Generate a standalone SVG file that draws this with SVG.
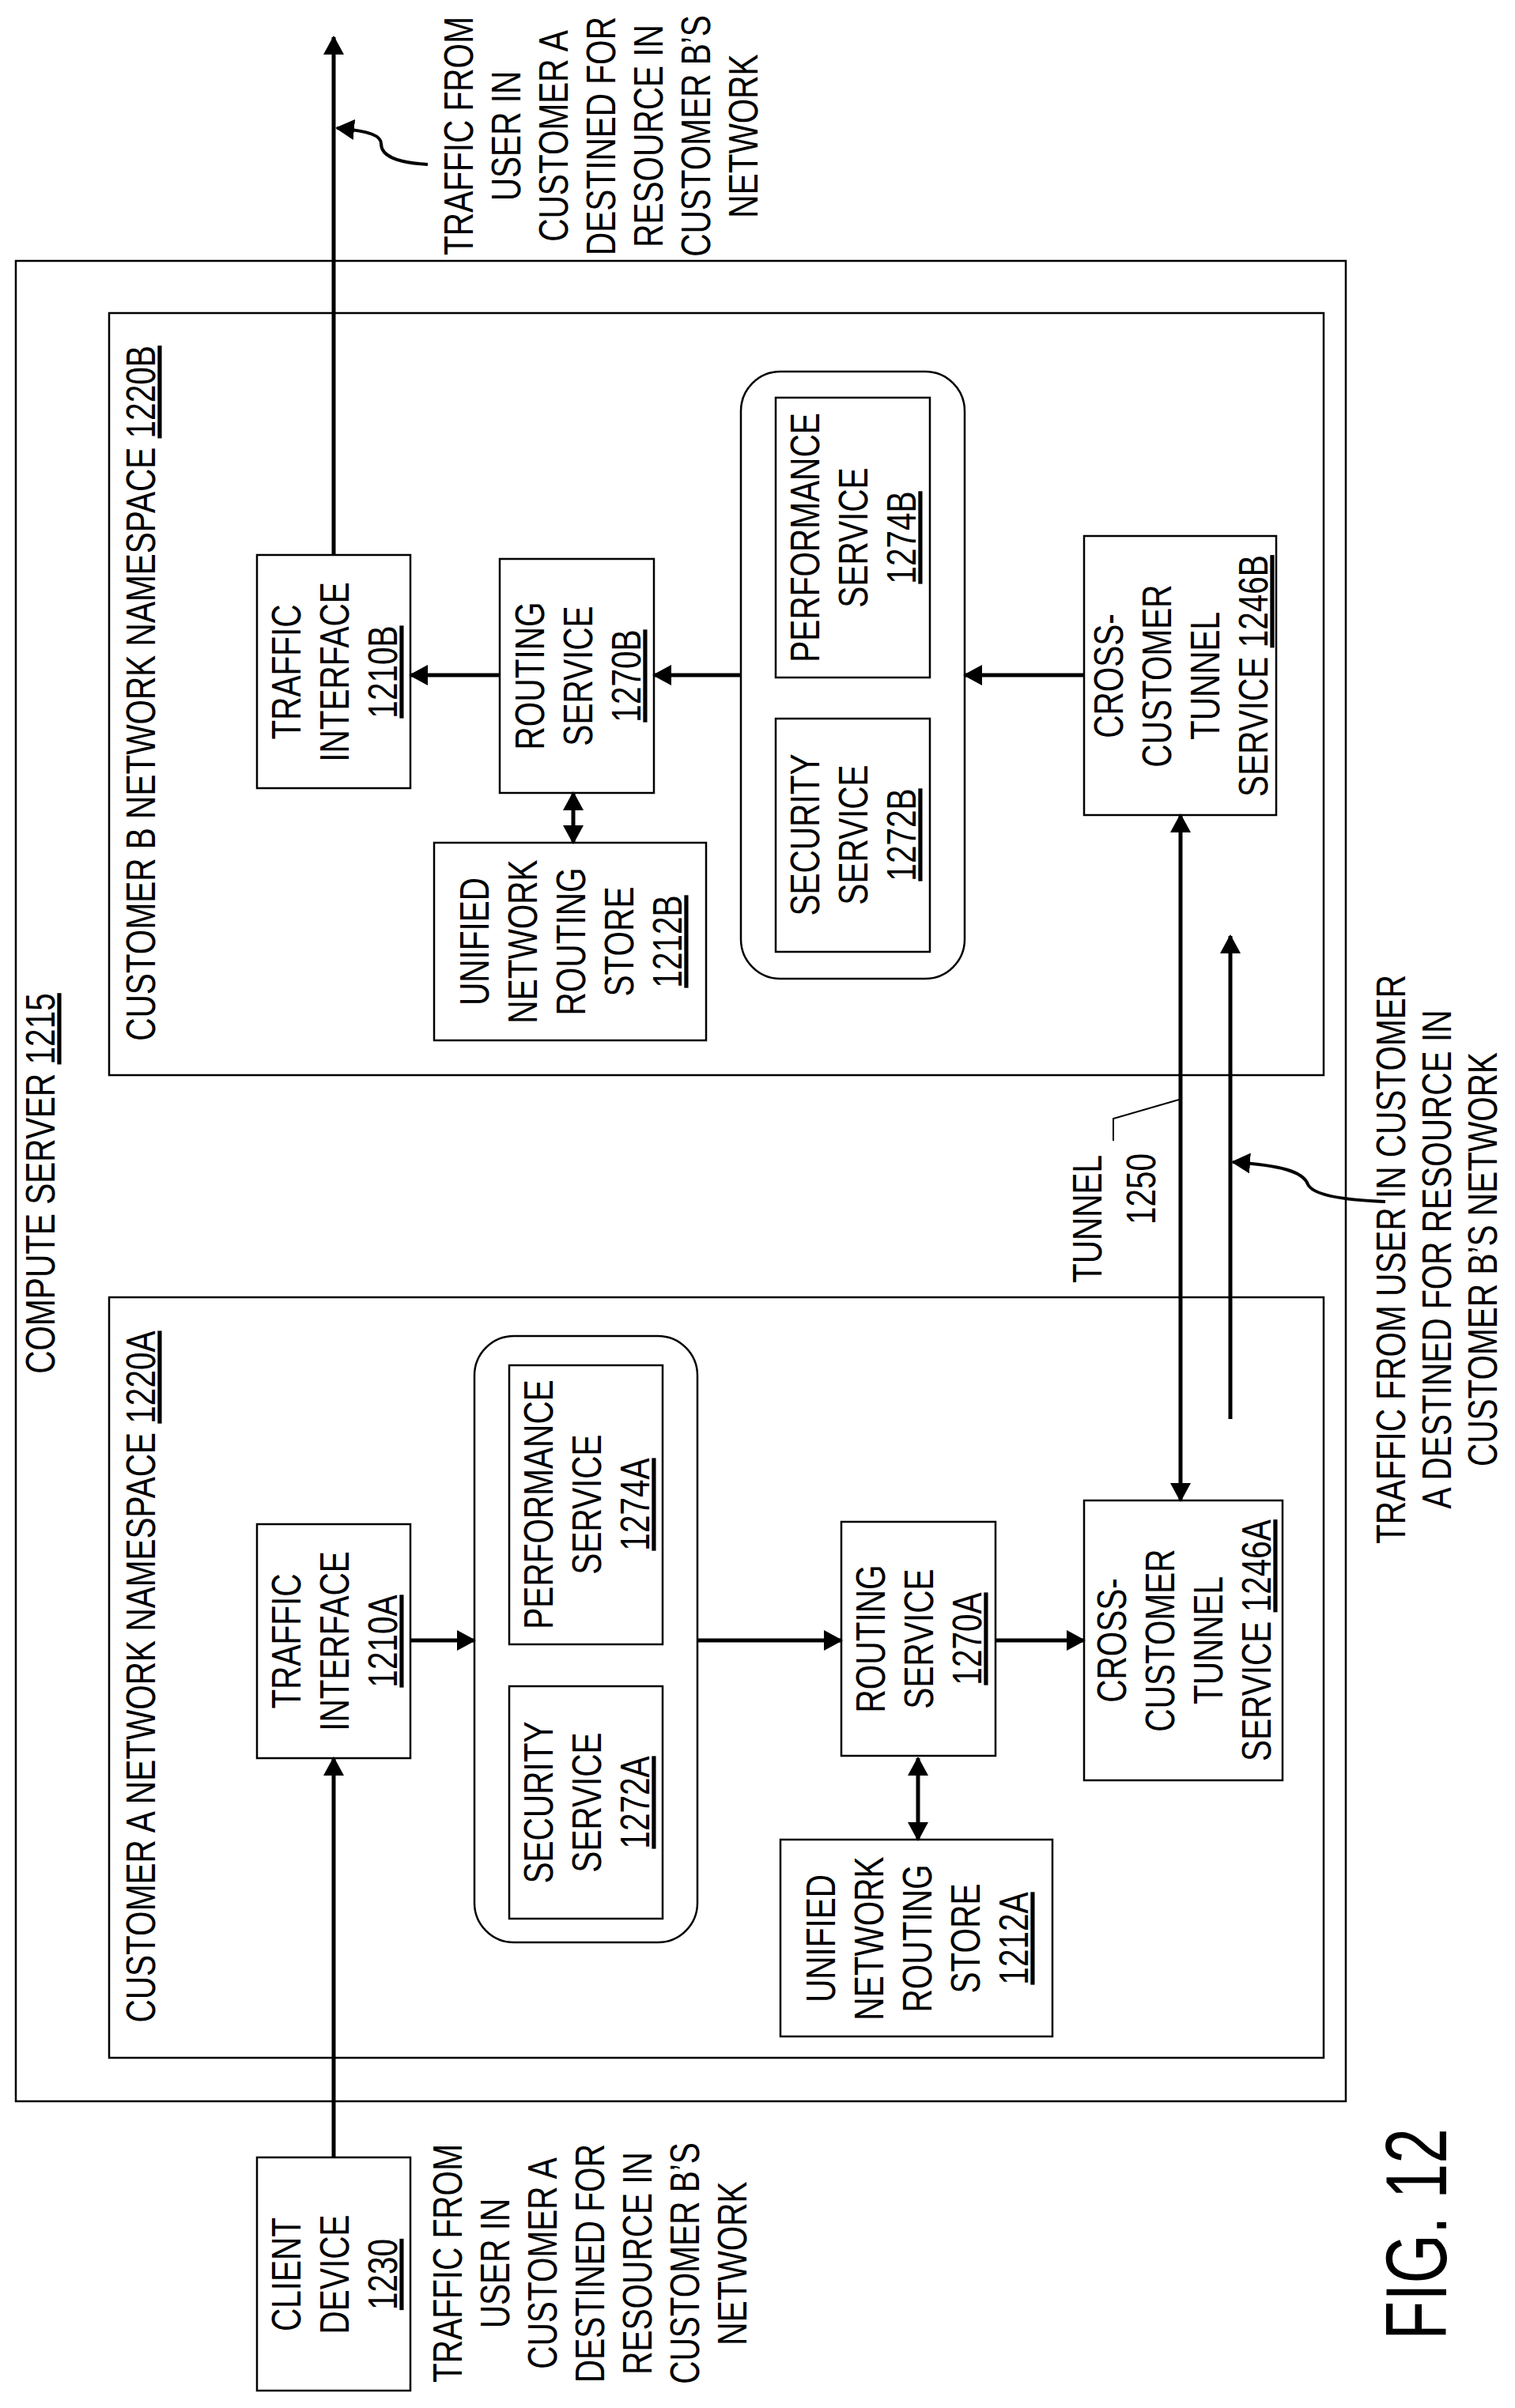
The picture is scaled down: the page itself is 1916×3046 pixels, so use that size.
<svg xmlns="http://www.w3.org/2000/svg" width="1916" height="3046" viewBox="0 0 1916 3046">
<style>
text{font-family:"Liberation Sans",Arial,sans-serif;font-size:52px;fill:#000;text-anchor:middle}
.b{fill:#fff;stroke:#000;stroke-width:2.5}
.c{fill:none;stroke:#000;stroke-width:5}
.l{fill:none;stroke:#000;stroke-width:4}
.u{text-decoration:underline}
</style>
<defs>
<marker id="a" markerUnits="userSpaceOnUse" markerWidth="24" markerHeight="26" viewBox="0 0 24 26" refX="22" refY="13" orient="auto-start-reverse"><path d="M0,0 L24,13 L0,26 z"/></marker>
</defs>
<rect width="1916" height="3046" fill="#fff"/>
<g id="compute-server">
<rect class="b" x="20" y="330" width="1682" height="2328"/>
<text transform="translate(50,1497) rotate(-90) scale(0.78,1)"><tspan x="0" y="19">COMPUTE SERVER <tspan class="u">1215</tspan></tspan></text>
</g>
<g id="ns-b">
<rect class="b" x="138" y="396" width="1536" height="964"/>
<text transform="translate(177,877) rotate(-90) scale(0.78,1)"><tspan x="0" y="19">CUSTOMER B NETWORK NAMESPACE <tspan class="u">1220B</tspan></tspan></text>
</g>
<g id="ns-a">
<rect class="b" x="138" y="1641" width="1536" height="962"/>
<text transform="translate(177,2121) rotate(-90) scale(0.78,1)"><tspan x="0" y="19">CUSTOMER A NETWORK NAMESPACE <tspan class="u">1220A</tspan></tspan></text>
</g>
<g id="traffic-b">
<rect class="b" x="325" y="702" width="194" height="295"/>
<text transform="translate(422,850) rotate(-90) scale(0.78,1)"><tspan x="0" y="-42">TRAFFIC</tspan><tspan x="0" y="19">INTERFACE</tspan><tspan x="0" y="80" class="u">1210B</tspan></text>
</g>
<g id="routing-b">
<rect class="b" x="632" y="707" width="195" height="296"/>
<text transform="translate(730,855) rotate(-90) scale(0.78,1)"><tspan x="0" y="-42">ROUTING</tspan><tspan x="0" y="19">SERVICE</tspan><tspan x="0" y="80" class="u">1270B</tspan></text>
</g>
<g id="store-b">
<rect class="b" x="549" y="1066" width="344" height="250"/>
<text transform="translate(721,1191) rotate(-90) scale(0.78,1)"><tspan x="0" y="-103">UNIFIED</tspan><tspan x="0" y="-42">NETWORK</tspan><tspan x="0" y="19">ROUTING</tspan><tspan x="0" y="80">STORE</tspan><tspan x="0" y="141" class="u">1212B</tspan></text>
</g>
<g id="group-b">
<rect class="b" x="937" y="470" width="283" height="768" rx="50"/>
</g>
<g id="perf-b">
<rect class="b" x="981" y="503" width="195" height="354"/>
<text transform="translate(1078,680) rotate(-90) scale(0.78,1)"><tspan x="0" y="-42">PERFORMANCE</tspan><tspan x="0" y="19">SERVICE</tspan><tspan x="0" y="80" class="u">1274B</tspan></text>
</g>
<g id="sec-b">
<rect class="b" x="981" y="909" width="195" height="295"/>
<text transform="translate(1078,1056) rotate(-90) scale(0.78,1)"><tspan x="0" y="-42">SECURITY</tspan><tspan x="0" y="19">SERVICE</tspan><tspan x="0" y="80" class="u">1272B</tspan></text>
</g>
<g id="cross-b">
<rect class="b" x="1371" y="678" width="243" height="353"/>
<text transform="translate(1492,855) rotate(-90) scale(0.78,1)"><tspan x="0" y="-72">CROSS-</tspan><tspan x="0" y="-11">CUSTOMER</tspan><tspan x="0" y="50">TUNNEL</tspan><tspan x="0" y="111">SERVICE <tspan class="u">1246B</tspan></tspan></text>
</g>
<g id="traffic-a">
<rect class="b" x="325" y="1928" width="194" height="296"/>
<text transform="translate(422,2076) rotate(-90) scale(0.78,1)"><tspan x="0" y="-42">TRAFFIC</tspan><tspan x="0" y="19">INTERFACE</tspan><tspan x="0" y="80" class="u">1210A</tspan></text>
</g>
<g id="group-a">
<rect class="b" x="600" y="1690" width="282" height="767" rx="50"/>
</g>
<g id="perf-a">
<rect class="b" x="644" y="1727" width="194" height="353"/>
<text transform="translate(741,1903) rotate(-90) scale(0.78,1)"><tspan x="0" y="-42">PERFORMANCE</tspan><tspan x="0" y="19">SERVICE</tspan><tspan x="0" y="80" class="u">1274A</tspan></text>
</g>
<g id="sec-a">
<rect class="b" x="644" y="2133" width="194" height="294"/>
<text transform="translate(741,2280) rotate(-90) scale(0.78,1)"><tspan x="0" y="-42">SECURITY</tspan><tspan x="0" y="19">SERVICE</tspan><tspan x="0" y="80" class="u">1272A</tspan></text>
</g>
<g id="routing-a">
<rect class="b" x="1064" y="1925" width="195" height="296"/>
<text transform="translate(1161,2073) rotate(-90) scale(0.78,1)"><tspan x="0" y="-42">ROUTING</tspan><tspan x="0" y="19">SERVICE</tspan><tspan x="0" y="80" class="u">1270A</tspan></text>
</g>
<g id="cross-a">
<rect class="b" x="1371" y="1898" width="251" height="354"/>
<text transform="translate(1496,2075) rotate(-90) scale(0.78,1)"><tspan x="0" y="-72">CROSS-</tspan><tspan x="0" y="-11">CUSTOMER</tspan><tspan x="0" y="50">TUNNEL</tspan><tspan x="0" y="111">SERVICE <tspan class="u">1246A</tspan></tspan></text>
</g>
<g id="store-a">
<rect class="b" x="987" y="2327" width="344" height="249"/>
<text transform="translate(1159,2452) rotate(-90) scale(0.78,1)"><tspan x="0" y="-103">UNIFIED</tspan><tspan x="0" y="-42">NETWORK</tspan><tspan x="0" y="19">ROUTING</tspan><tspan x="0" y="80">STORE</tspan><tspan x="0" y="141" class="u">1212A</tspan></text>
</g>
<g id="client">
<rect class="b" x="325" y="2729" width="194" height="295"/>
<text transform="translate(422,2877) rotate(-90) scale(0.78,1)"><tspan x="0" y="-42">CLIENT</tspan><tspan x="0" y="19">DEVICE</tspan><tspan x="0" y="80" class="u">1230</tspan></text>
</g>
<g id="labels">
<text transform="translate(759,172) rotate(-90) scale(0.78,1)"><tspan x="0" y="-161">TRAFFIC FROM</tspan><tspan x="0" y="-101">USER IN</tspan><tspan x="0" y="-41">CUSTOMER A</tspan><tspan x="0" y="19">DESTINED FOR</tspan><tspan x="0" y="79">RESOURCE IN</tspan><tspan x="0" y="139">CUSTOMER B’S</tspan><tspan x="0" y="199">NETWORK</tspan></text>
<text transform="translate(745,2863) rotate(-90) scale(0.78,1)"><tspan x="0" y="-161">TRAFFIC FROM</tspan><tspan x="0" y="-101">USER IN</tspan><tspan x="0" y="-41">CUSTOMER A</tspan><tspan x="0" y="19">DESTINED FOR</tspan><tspan x="0" y="79">RESOURCE IN</tspan><tspan x="0" y="139">CUSTOMER B’S</tspan><tspan x="0" y="199">NETWORK</tspan></text>
<text transform="translate(1816,1593) rotate(-90) scale(0.78,1)"><tspan x="0" y="-39">TRAFFIC FROM USER IN CUSTOMER</tspan><tspan x="0" y="19">A DESTINED FOR RESOURCE IN</tspan><tspan x="0" y="77">CUSTOMER B’S NETWORK</tspan></text>
<text transform="translate(1374,1542) rotate(-90) scale(0.78,1)"><tspan x="0" y="19">TUNNEL</tspan></text>
<text transform="translate(1442,1504) rotate(-90) scale(0.78,1)"><tspan x="0" y="19">1250</tspan></text>
<text transform="translate(1790,2826) rotate(-90) scale(0.73,1)" style="font-size:110px"><tspan x="0" y="39">FIG. 12</tspan></text>
</g>
<g id="connectors">
<line class="c" x1="422" y1="702" x2="422" y2="47" marker-end="url(#a)"/>
<line class="c" x1="632" y1="854" x2="519" y2="854" marker-end="url(#a)"/>
<line class="c" x1="937" y1="854" x2="827" y2="854" marker-end="url(#a)"/>
<line class="c" x1="1371" y1="854" x2="1220" y2="854" marker-end="url(#a)"/>
<line class="c" x1="725" y1="1003" x2="725" y2="1066" marker-start="url(#a)" marker-end="url(#a)"/>
<line class="c" x1="1493" y1="1031" x2="1493" y2="1898" marker-start="url(#a)" marker-end="url(#a)"/>
<line class="c" x1="1556" y1="1795" x2="1556" y2="1184" marker-end="url(#a)"/>
<line class="c" x1="519" y1="2075" x2="600" y2="2075" marker-end="url(#a)"/>
<line class="c" x1="882" y1="2075" x2="1064" y2="2075" marker-end="url(#a)"/>
<line class="c" x1="1259" y1="2075" x2="1371" y2="2075" marker-end="url(#a)"/>
<line class="c" x1="1161" y1="2224" x2="1161" y2="2327" marker-start="url(#a)" marker-end="url(#a)"/>
<line class="c" x1="422" y1="2729" x2="422" y2="2224" marker-end="url(#a)"/>
<path class="l" d="M541,208 C500,206 482,196 482,182 C482,172 470,166 426,162" marker-end="url(#a)"/>
<path class="l" d="M1752,1520 C1700,1518 1660,1512 1654,1498 C1648,1482 1620,1474 1559,1470" marker-end="url(#a)"/>
<polyline fill="none" stroke="#000" stroke-width="2" points="1408,1443 1408,1415 1491,1391"/>
</g>
</svg>
